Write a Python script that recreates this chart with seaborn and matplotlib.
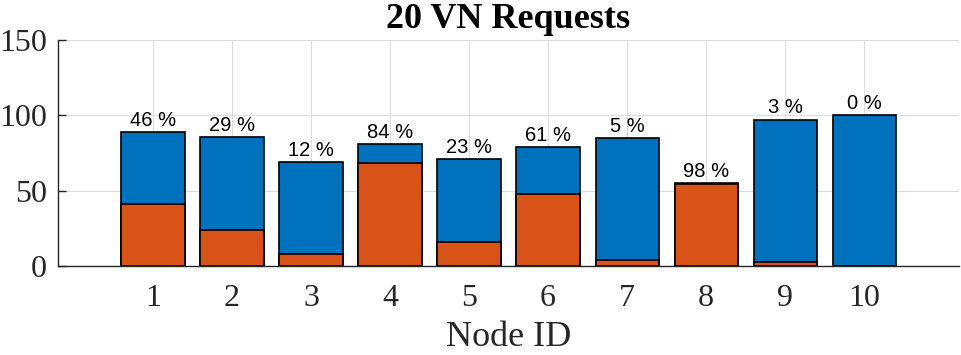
import numpy as np
import pandas as pd
import matplotlib
matplotlib.use('Agg')
import matplotlib.pyplot as plt
import seaborn as sns

# dữ liệu
node_ids = ['1', '2', '3', '4', '5', '6', '7', '8', '9', '10']
total = [89, 85.5, 69, 81, 71, 79, 85, 55, 97, 100]
accepted = [41, 24, 8, 68, 16, 48, 4, 54, 2.5, 0]
pct_labels = ['46 %', '29 %', '12 %', '84 %', '23 %', '61 %', '5 %', '98 %', '3 %', '0 %']

blue = '#0072BD'
orange = '#D95319'

sns.set_style('white')
plt.rcParams['font.family'] = ['Liberation Serif', 'DejaVu Serif']

df = pd.DataFrame({'node': node_ids, 'total': total, 'accepted': accepted})

fig = plt.figure(figsize=(9.61, 3.55), dpi=100)
ax = fig.add_axes([0.0604, 0.2507, 0.9376, 0.638])

sns.barplot(data=df, x='node', y='total', color=blue, saturation=1,
            width=0.8, edgecolor='black', linewidth=1.2, ax=ax, zorder=2)
sns.barplot(data=df, x='node', y='accepted', color=orange, saturation=1,
            width=0.8, edgecolor='black', linewidth=1.2, ax=ax, zorder=3)

# nhãn phần trăm trên mỗi cột
for i, (t, lab) in enumerate(zip(total, pct_labels)):
    ax.annotate(lab, (i, t), xytext=(0, 1.5), textcoords='offset points',
                ha='center', va='bottom', fontsize=14.5, color='black',
                family=['Liberation Sans', 'DejaVu Sans'], zorder=4)

ax.set_xlim(-1.2, 10.2)
ax.set_ylim(0, 150)
ax.set_yticks([0, 50, 100, 150])
ax.grid(True, color='#dcdcdc', linewidth=0.8, zorder=0)
ax.set_axisbelow(True)

for s in ['top', 'right']:
    ax.spines[s].set_visible(False)
for s in ['left', 'bottom']:
    ax.spines[s].set_color('#262626')
    ax.spines[s].set_linewidth(1.0)

ax.tick_params(axis='y', direction='in', length=6, width=1, color='#262626',
               labelsize=23, labelcolor='#262626', pad=8, left=True)
ax.tick_params(axis='x', direction='in', length=0, labelsize=23,
               labelcolor='#262626', pad=13)

ax.set_xlabel('Node ID', fontsize=26, color='#262626', labelpad=6)
ax.set_ylabel('')
ax.set_title('20 VN Requests', fontsize=26, fontweight='bold', color='black', pad=8)

fig.savefig('out.png', dpi=100)
